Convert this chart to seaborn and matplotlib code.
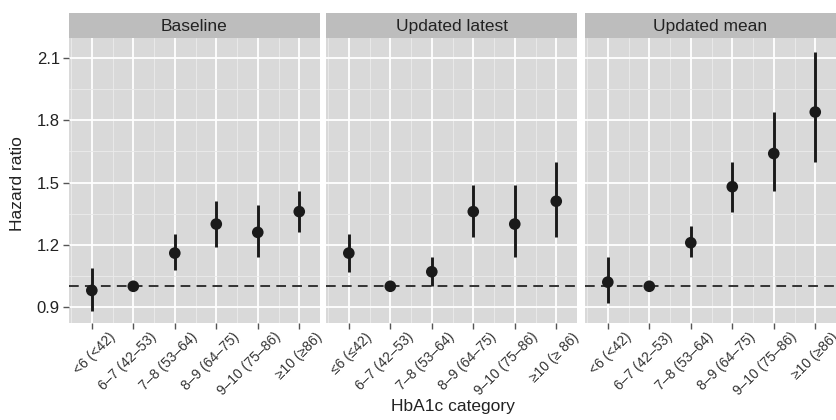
import numpy as np
import pandas as pd
import matplotlib
matplotlib.use("Agg")
import matplotlib.pyplot as plt
import matplotlib.transforms as mtransforms
from matplotlib.ticker import MultipleLocator, FixedLocator
import seaborn as sns

# ---------------------------------------------------------------------------
# data
# ---------------------------------------------------------------------------
panels = ["Baseline", "Updated latest", "Updated mean"]

labels_baseline = ["<6 (<42)", "6–7 (42–53)", "7–8 (53–64)", "8–9 (64–75)", "9–10 (75–86)", "≥10 (≥86)"]
labels_latest = ["≤6 (≤42)", "6–7 (42–53)", "7–8 (53–64)", "8–9 (64–75)", "9–10 (75–86)", "≥10 (≥ 86)"]
labels_mean = ["<6 (<42)", "6–7 (42–53)", "7–8 (53–64)", "8–9 (64–75)", "9–10 (75–86)", "≥10 (≥86)"]

hr_baseline = [0.98, 1.00, 1.16, 1.30, 1.26, 1.36]
lo_baseline = [0.88, 1.00, 1.08, 1.19, 1.14, 1.26]
hi_baseline = [1.09, 1.00, 1.25, 1.41, 1.39, 1.46]

hr_latest = [1.16, 1.00, 1.07, 1.36, 1.30, 1.41]
lo_latest = [1.07, 1.00, 1.00, 1.24, 1.14, 1.24]
hi_latest = [1.25, 1.00, 1.14, 1.49, 1.49, 1.60]

hr_mean = [1.02, 1.00, 1.21, 1.48, 1.64, 1.84]
lo_mean = [0.92, 1.00, 1.14, 1.36, 1.46, 1.60]
hi_mean = [1.14, 1.00, 1.29, 1.60, 1.84, 2.13]

y_ticks = [0.9, 1.2, 1.5, 1.8, 2.1]
reference_line = 1.0

# ---------------------------------------------------------------------------
# build long table
# ---------------------------------------------------------------------------
frames = []
for name, labs, hr, lo, hi in [
    (panels[0], labels_baseline, hr_baseline, lo_baseline, hi_baseline),
    (panels[1], labels_latest, hr_latest, lo_latest, hi_latest),
    (panels[2], labels_mean, hr_mean, lo_mean, hi_mean),
]:
    frames.append(pd.DataFrame({
        "panel": name,
        "category": labs,
        "pos": np.arange(1, len(labs) + 1),
        "hr": hr, "lo": lo, "hi": hi,
    }))
df = pd.concat(frames, ignore_index=True)

# ---------------------------------------------------------------------------
# style
# ---------------------------------------------------------------------------
sns.set_theme(style="darkgrid")
plt.rcParams["font.family"] = ["Liberation Sans", "DejaVu Sans"]
panel_bg = "#D9D9D9"
strip_bg = "#BDBDBD"
text_col = "#222222"

fig = plt.figure(figsize=(8.36, 4.2), dpi=100)
W, H = 836, 420
lefts = [69, 326, 585]
pw = 251
top, bottom = 38, 323
strip_h = 25

# rotated category labels sit like ggplot's angle=45, hjust=1, vjust=1
label_shift = mtransforms.ScaledTranslation(16 / 100, -7 / 100, fig.dpi_scale_trans)

for i, name in enumerate(panels):
    ax = fig.add_axes([lefts[i] / W, 1 - bottom / H, pw / W, (bottom - top) / H])
    ax.set_facecolor(panel_bg)
    sub = df[df["panel"] == name]

    ax.set_xlim(0.45, 6.5)
    ax.set_ylim(0.823, 2.197)
    ax.yaxis.set_major_locator(FixedLocator(y_ticks))
    ax.yaxis.set_minor_locator(FixedLocator([0.75, 1.05, 1.35, 1.65, 1.95]))
    ax.xaxis.set_major_locator(FixedLocator(sub["pos"].tolist()))
    ax.xaxis.set_minor_locator(MultipleLocator(0.5))
    ax.grid(which="major", color="white", linewidth=1.3)
    ax.grid(which="minor", color="#EBEBEB", linewidth=0.6)
    ax.set_axisbelow(True)
    for s in ax.spines.values():
        s.set_visible(False)

    ax.axhline(reference_line, color="#333333", linewidth=1.4, linestyle=(0, (5, 3.2)), zorder=2)
    ax.vlines(sub["pos"], sub["lo"], sub["hi"], color="#1a1a1a", linewidth=2.1, zorder=3)
    sns.scatterplot(data=sub, x="pos", y="hr", ax=ax, color="#1a1a1a", s=70,
                    edgecolor="none", zorder=4, legend=False)

    ax.tick_params(axis="x", which="major", length=4.5, width=1, color="#555555",
                   bottom=True, labelbottom=False)
    ax.tick_params(axis="x", which="minor", length=0)
    trans = mtransforms.blended_transform_factory(ax.transData, ax.transAxes) + label_shift
    for p, lab in zip(sub["pos"], sub["category"]):
        ax.text(p, 0, lab, transform=trans, rotation=45, ha="right", va="top",
                rotation_mode="anchor", fontsize=10, color="#333333", clip_on=False)
    ax.set_xlabel("")
    ax.set_ylabel("")
    if i == 0:
        ax.set_yticklabels([f"{v:.1f}" for v in y_ticks], fontsize=12, color="#222222")
        ax.tick_params(axis="y", which="major", length=4.5, width=1, color="#555555",
                       left=True, pad=2)
    else:
        ax.tick_params(axis="y", which="major", labelleft=False, length=0)
    ax.tick_params(axis="y", which="minor", length=0)

    # facet strip
    sax = fig.add_axes([lefts[i] / W, 1 - top / H, pw / W, strip_h / H])
    sax.set_facecolor(strip_bg)
    sax.set_xticks([])
    sax.set_yticks([])
    for s in sax.spines.values():
        s.set_visible(False)
    sax.text(0.5, 0.45, name, ha="center", va="center", fontsize=12.5,
             color=text_col, transform=sax.transAxes)

fig.text(18 / W, 1 - 184 / H, "Hazard ratio", rotation=90, ha="center", va="center",
         fontsize=12.5, color=text_col)
fig.text(453 / W, 1 - 406 / H, "HbA1c category", ha="center", va="center",
         fontsize=12.5, color=text_col)

fig.savefig("out.png", dpi=100, facecolor="white")
